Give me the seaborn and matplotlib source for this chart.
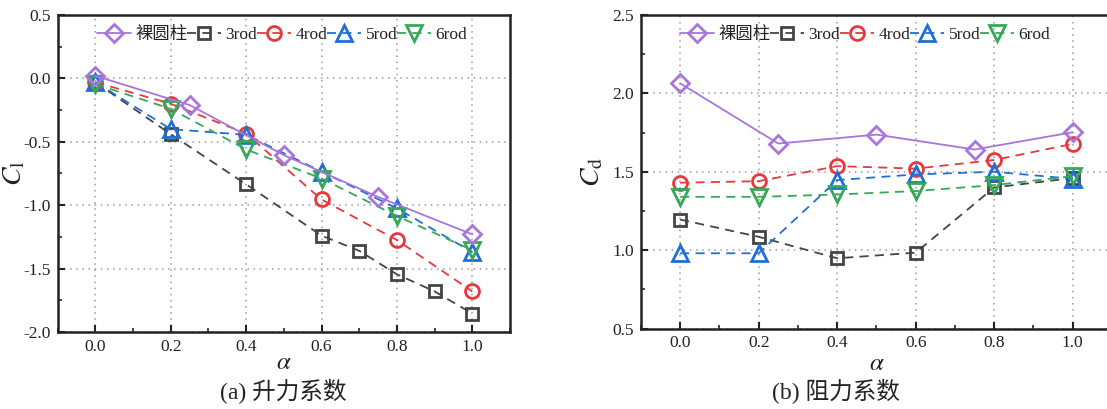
import numpy as np
import pandas as pd
import matplotlib
matplotlib.use("Agg")
import matplotlib.pyplot as plt
import seaborn as sns
from matplotlib.ticker import MultipleLocator

# ---------------- data ----------------
series_names = ["裸圆柱", "3rod", "4rod", "5rod", "6rod"]

# Lift coefficient (a)
cl_bare_x = [0.0, 0.25, 0.5, 0.75, 1.0]
cl_bare_y = [0.02, -0.21, -0.605, -0.935, -1.23]
cl_3rod_x = [0.0, 0.2, 0.4, 0.6, 0.7, 0.8, 0.9, 1.0]
cl_3rod_y = [-0.03, -0.44, -0.835, -1.24, -1.36, -1.545, -1.68, -1.855]
cl_4rod_x = [0.0, 0.2, 0.4, 0.6, 0.8, 1.0]
cl_4rod_y = [-0.03, -0.20, -0.435, -0.955, -1.275, -1.68]
cl_5rod_x = [0.0, 0.2, 0.4, 0.6, 0.8, 1.0]
cl_5rod_y = [-0.03, -0.40, -0.445, -0.735, -1.025, -1.37]
cl_6rod_x = [0.0, 0.2, 0.4, 0.6, 0.8, 1.0]
cl_6rod_y = [-0.045, -0.24, -0.56, -0.79, -1.085, -1.355]

# Drag coefficient (b)
cd_bare_x = [0.0, 0.25, 0.5, 0.75, 1.0]
cd_bare_y = [2.064, 1.68, 1.737, 1.642, 1.752]
cd_3rod_x = [0.0, 0.2, 0.4, 0.6, 0.8, 1.0]
cd_3rod_y = [1.195, 1.085, 0.948, 0.984, 1.40, 1.46]
cd_4rod_x = [0.0, 0.2, 0.4, 0.6, 0.8, 1.0]
cd_4rod_y = [1.43, 1.44, 1.536, 1.52, 1.575, 1.678]
cd_5rod_x = [0.0, 0.2, 0.4, 0.6, 0.8, 1.0]
cd_5rod_y = [0.98, 0.98, 1.447, 1.483, 1.50, 1.455]
cd_6rod_x = [0.0, 0.2, 0.4, 0.6, 0.8, 1.0]
cd_6rod_y = [1.34, 1.34, 1.355, 1.377, 1.415, 1.472]

xticks = [0.0, 0.2, 0.4, 0.6, 0.8, 1.0]
cl_yticks = [-2.0, -1.5, -1.0, -0.5, 0.0, 0.5]
cd_yticks = [0.5, 1.0, 1.5, 2.0, 2.5]
captions = ["(a) 升力系数", "(b) 阻力系数"]

# ---------------- style ----------------
sns.set_theme(style="white")
plt.rcParams["font.family"] = ["Liberation Serif", "Noto Sans CJK SC", "DejaVu Sans"]
plt.rcParams["mathtext.fontset"] = "stix"

colors = {"裸圆柱": "#A775DB", "3rod": "#444444", "4rod": "#E8383D",
          "5rod": "#1F6FD8", "6rod": "#35A85A"}
markers = {"裸圆柱": "D", "3rod": "s", "4rod": "o", "5rod": "^", "6rod": "v"}
msizes = {"裸圆柱": 9.5, "3rod": 9, "4rod": 10, "5rod": 11, "6rod": 11}
lstyles = {"裸圆柱": "-", "3rod": "--", "4rod": "--", "5rod": "--", "6rod": "--"}
zorders = {"裸圆柱": 6, "3rod": 2, "4rod": 3, "5rod": 4, "6rod": 5}


def make_df(xs, ys):
    frames = []
    for name, x, y in zip(series_names, xs, ys):
        frames.append(pd.DataFrame({"alpha": x, "value": y, "series": name}))
    return pd.concat(frames, ignore_index=True)


df_cl = make_df([cl_bare_x, cl_3rod_x, cl_4rod_x, cl_5rod_x, cl_6rod_x],
                [cl_bare_y, cl_3rod_y, cl_4rod_y, cl_5rod_y, cl_6rod_y])
df_cd = make_df([cd_bare_x, cd_3rod_x, cd_4rod_x, cd_5rod_x, cd_6rod_x],
                [cd_bare_y, cd_3rod_y, cd_4rod_y, cd_5rod_y, cd_6rod_y])

fig = plt.figure(figsize=(11.07, 4.09), dpi=100)
ax1 = fig.add_axes([0.0521, 0.1883, 0.4086, 0.775])
ax2 = fig.add_axes([0.5790, 0.1968, 0.4255, 0.7665])


def draw(ax, df, ylim, yticks, ylabel, ylab_x, xlab_y, leg_x):
    handles = []
    for name in series_names:
        sub = df[df["series"] == name]
        sns.lineplot(data=sub, x="alpha", y="value", ax=ax, color=colors[name],
                     linestyle=lstyles[name], linewidth=1.3,
                     marker=markers[name], markersize=msizes[name],
                     markerfacecolor="none", markeredgecolor=colors[name],
                     markeredgewidth=2.0, zorder=zorders[name],
                     label=name, legend=False, errorbar=None)
        line = ax.get_lines()[-1]
        if name != "裸圆柱":
            line.set_dashes((5, 3.5))
        handles.append(line)
    ax.set_xlim(-0.1, 1.1)
    ax.set_ylim(*ylim)
    ax.set_xticks(xticks)
    ax.set_yticks(yticks)
    ax.set_xticklabels([f"{t:.1f}" for t in xticks])
    ax.set_yticklabels([f"{t:.1f}" for t in yticks])
    ax.xaxis.set_minor_locator(MultipleLocator(0.1))
    ax.yaxis.set_minor_locator(MultipleLocator(0.25))
    ax.tick_params(axis="both", which="major", direction="in", length=5, width=1.5,
                   labelsize=12.5, colors="#222222", pad=5,
                   top=False, right=False, bottom=True, left=True)
    ax.tick_params(axis="both", which="minor", direction="in", length=3, width=1.2,
                   top=False, right=False, bottom=True, left=True)
    ax.grid(True, which="major", linestyle=(0, (1, 3)), color="#999999", linewidth=1.1)
    for s in ax.spines.values():
        s.set_linewidth(1.8)
        s.set_color("#222222")
    ax.set_xlabel(r"$\alpha$", fontsize=18, color="#222222")
    ax.set_ylabel(ylabel, fontsize=20, color="#222222")
    ax.yaxis.set_label_coords(ylab_x, 0.5)
    ax.xaxis.set_label_coords(0.5, xlab_y)
    leg = ax.legend(handles=handles, labels=series_names, ncol=5, loc="upper left",
                    bbox_to_anchor=(leg_x, 0.963), frameon=False, fontsize=12.5,
                    handlelength=1.95, handletextpad=0.25, columnspacing=0.0,
                    borderaxespad=0.0, borderpad=0.0)
    for t in leg.get_texts():
        t.set_color("#222222")
    return ax


draw(ax1, df_cl, (-2.0, 0.5), cl_yticks, r"$C_\mathrm{l}$", -0.066, -0.064, 0.087)
draw(ax2, df_cd, (0.5, 2.5), cd_yticks, r"$C_\mathrm{d}$", -0.076, -0.077, 0.083)

fig.text(0.256, 0.045, captions[0], ha="center", va="center", fontsize=17, color="#222222")
fig.text(0.755, 0.045, captions[1], ha="center", va="center", fontsize=17, color="#222222")

fig.savefig("out.png", dpi=100)
